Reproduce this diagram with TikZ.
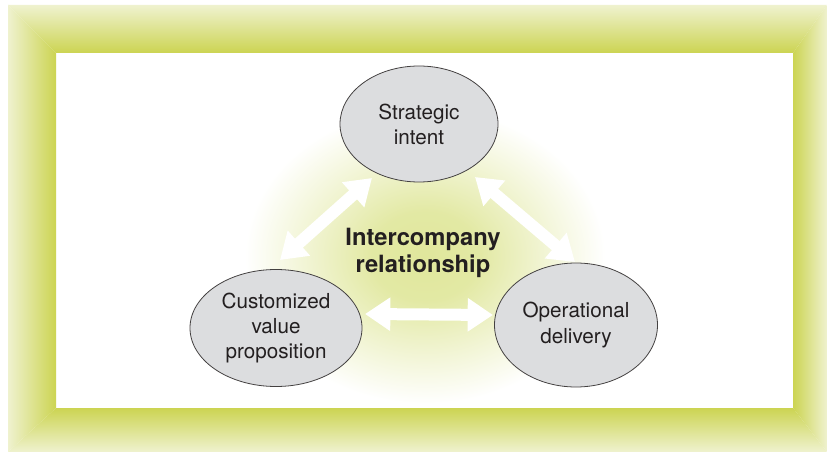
\documentclass[tikz,border=0pt]{standalone}
\usepackage{fontspec}
\setmainfont{TeX Gyre Heros}
\usetikzlibrary{arrows.meta,shapes.geometric,calc}
\definecolor{frameDark}{HTML}{CCD452}
\definecolor{frameLight}{HTML}{EFF2CF}
\definecolor{glowc}{HTML}{E0E79C}
\definecolor{ellfill}{HTML}{DCDDDF}
\definecolor{txt}{HTML}{231F20}
\pgfdeclareradialshading{glowshade}{\pgfpoint{0bp}{0bp}}{color(0bp)=(glowc); color(6bp)=(glowc!92!white); color(13bp)=(glowc!45!white); color(20bp)=(white); color(50bp)=(white)}
\tikzset{
  ell/.style={ellipse, draw=txt!85, line width=0.6pt, fill=ellfill, inner sep=0pt,
    font=\fontsize{15.5}{18.8}\selectfont, text=txt, align=center},
  wharrow/.style={white, line width=9pt,
    {Triangle[length=19pt,width=24pt]}-{Triangle[length=19pt,width=24pt]}}
}
\begin{document}
\begin{tikzpicture}[x=0.75pt,y=-0.75pt]
\useasboundingbox (0,0) rectangle (827,452);
\fill[white] (0,0) rectangle (827,452);
% glow
\begin{scope}
\clip (56,53) rectangle (793,408);
\shade[shading=glowshade] (425,256) ellipse [x radius=225, y radius=185];
\end{scope}
% frame bevel
\shade[top color=frameLight, bottom color=frameDark] (8,5) -- (827,5) -- (793,53) -- (56,53) -- cycle;
\shade[top color=frameDark, bottom color=frameLight] (56,408) -- (793,408) -- (827,452) -- (8,452) -- cycle;
\shade[left color=frameLight, right color=frameDark] (8,5) -- (56,53) -- (56,408) -- (8,452) -- cycle;
\shade[left color=frameDark, right color=frameLight] (793,53) -- (827,5) -- (827,452) -- (793,408) -- cycle;
% nodes
\node[ell, minimum width=158*0.75pt, minimum height=116*0.75pt] (si) at (419,124) {Strategic\\intent};
\node[ell, minimum width=172*0.75pt, minimum height=117*0.75pt] (cvp) at (276,328) {Customized\\value\\proposition};
\node[ell, minimum width=163*0.75pt, minimum height=124*0.75pt] (od) at (576,325) {Operational\\delivery};
\node[font=\bfseries\fontsize{17.8}{20.5}\selectfont, text=txt, align=center] (ir) at (423,253) {Intercompany\\relationship};
% arrows
\draw[wharrow] ($(cvp.center)+(4,-68)$) -- ($(si.center)+(-47,54)$);
\draw[wharrow] ($(si.center)+(56,53)$) -- ($(od.center)+(-1,-63)$);
\draw[wharrow] ($(cvp.center)+(89,-14)$) -- ($(od.center)+(-83,-10)$);
\end{tikzpicture}
\end{document}
